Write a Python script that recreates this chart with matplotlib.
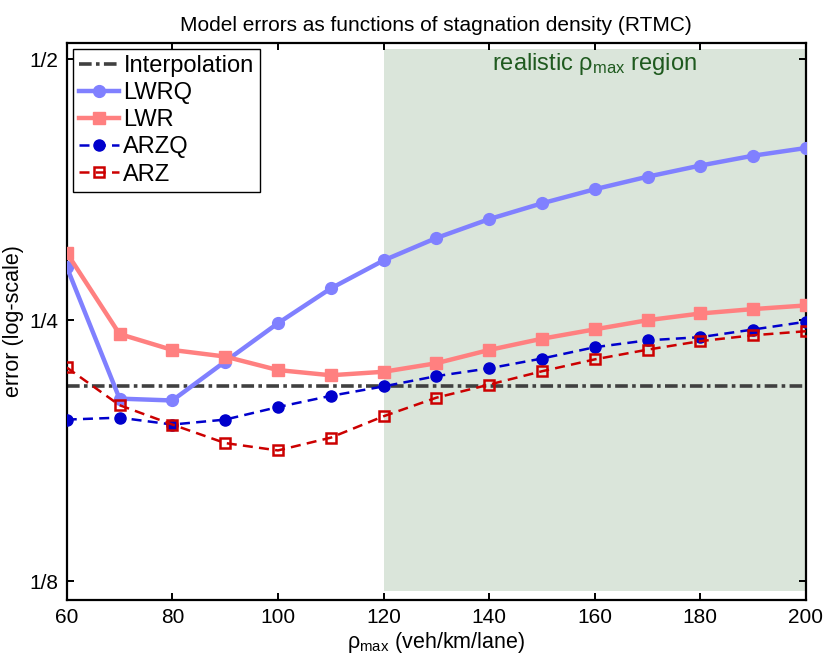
import numpy as np
import matplotlib
matplotlib.use("Agg")
import matplotlib.pyplot as plt
from matplotlib.ticker import FixedLocator, FixedFormatter, NullLocator

plt.rcParams['font.family'] = ['Liberation Sans', 'DejaVu Sans']
plt.rcParams['mathtext.fontset'] = 'custom'
plt.rcParams['mathtext.rm'] = 'Liberation Sans'
plt.rcParams['mathtext.it'] = 'Liberation Sans'

# stagnation density (veh/km/lane)
rho_max = [60, 70, 80, 90, 100, 110, 120, 130, 140, 150, 160, 170, 180, 190, 200]

# model errors
err_lwrq = [0.288, 0.203, 0.202, 0.224, 0.248, 0.272, 0.293, 0.311, 0.327,
            0.341, 0.354, 0.366, 0.377, 0.387, 0.395]
err_lwr = [0.299, 0.241, 0.231, 0.227, 0.219, 0.216, 0.218, 0.223, 0.231,
           0.238, 0.244, 0.250, 0.2545, 0.2575, 0.260]
err_arzq = [0.192, 0.193, 0.1895, 0.192, 0.1985, 0.2045, 0.2097, 0.2155, 0.220,
            0.2258, 0.2327, 0.237, 0.239, 0.2439, 0.249]
err_arz = [0.2205, 0.1995, 0.1895, 0.1804, 0.1769, 0.183, 0.1937, 0.2035, 0.2107,
           0.2183, 0.2253, 0.2312, 0.2365, 0.2402, 0.2428]
err_interp = 0.2097

# realistic region
region_x = [120, 200]
region_y = [0.1217, 0.514]

y_ticks = [1 / 8, 1 / 4, 1 / 2]
y_ticklabels = ['1/8', '1/4', '1/2']
x_ticks = [60, 80, 100, 120, 140, 160, 180, 200]

fig = plt.figure(figsize=(8.3, 6.65), dpi=100)
ax = fig.add_axes([0.0804, 0.0977, 0.8906, 0.8376])

ax.fill_between(region_x, region_y[0], region_y[1], color='#dae5da',
                linewidth=0, zorder=0)
ax.text(160, 0.486, r'realistic $\mathregular{\rho_{max}}$ region',
        ha='center', va='baseline', fontsize=17, color='#1f5a1f')

ax.plot([rho_max[0], rho_max[-1]], [err_interp, err_interp], color='#404040',
        linestyle=(0, (3.5, 1.2, 1, 1.2)), linewidth=2.6, label='Interpolation',
        zorder=2)
ax.plot(rho_max, err_lwrq, color='#8080ff', linewidth=3.2, marker='o',
        markersize=8.5, label='LWRQ', zorder=3)
ax.plot(rho_max, err_lwr, color='#ff8080', linewidth=3.2, marker='s',
        markersize=8, label='LWR', zorder=3)
ax.plot(rho_max, err_arzq, color='#0000cc', linewidth=1.8, linestyle=(0, (4, 2.5)),
        marker='o', markersize=8, label='ARZQ', zorder=4)
ax.plot(rho_max, err_arz, color='#cc0000', linewidth=1.8, linestyle=(0, (4, 2.5)),
        marker='s', markersize=7, markerfacecolor='none', markeredgewidth=1.8,
        label='ARZ', zorder=4)

ax.set_yscale('log', base=2)
ax.set_xlim(60, 200)
ax.set_ylim(0.1189, 0.522)
ax.yaxis.set_major_locator(FixedLocator(y_ticks))
ax.yaxis.set_major_formatter(FixedFormatter(y_ticklabels))
ax.yaxis.set_minor_locator(NullLocator())
ax.set_xticks(x_ticks)

for s in ax.spines.values():
    s.set_linewidth(1.6)
ax.tick_params(direction='in', length=5, width=1.4, labelsize=15,
               top=True, right=True, pad=6)

ax.set_xlabel(r'$\mathregular{\rho_{max}}$ (veh/km/lane)', fontsize=15.5, labelpad=2)
ax.set_ylabel('error (log-scale)', fontsize=15.5, labelpad=4)
ax.set_title('Model errors as functions of stagnation density (RTMC)',
             fontsize=15, pad=9)

leg = ax.legend(loc='upper left', fontsize=17, handlelength=1.7,
                handletextpad=0.2, labelspacing=0.22, borderpad=0.25,
                borderaxespad=0.25, fancybox=False, framealpha=1,
                edgecolor='black')
leg.get_frame().set_linewidth(1.0)

fig.savefig('out.png', dpi=100)
